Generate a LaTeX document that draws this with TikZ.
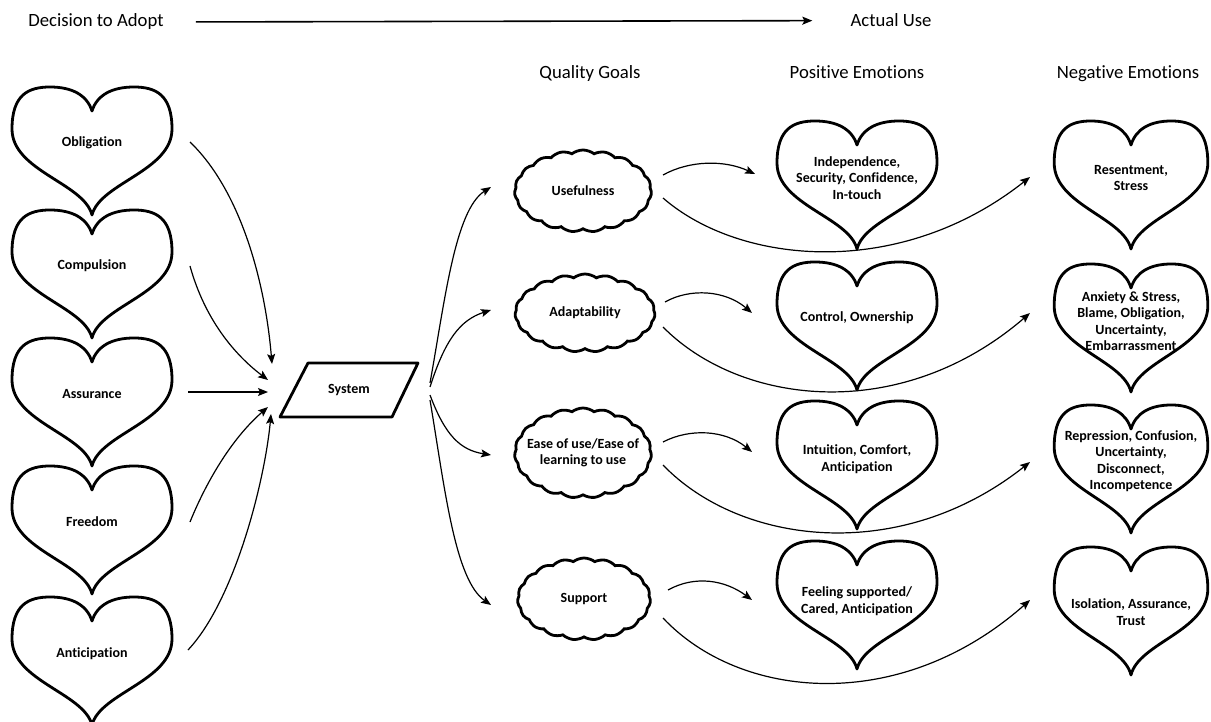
\documentclass[tikz,border=0pt]{standalone}
\usepackage{fontspec}
\setmainfont{Carlito}[Ligatures=NoCommon]
\usetikzlibrary{shapes.symbols,arrows.meta}
\newcommand{\hrtpath}[3]{%
  \draw[hline,shift={(#1,#2)},xscale=#3] (0,72) .. controls (-8,40) and (-80,28) .. (-80,-14)
    .. controls (-80,-48) and (-64,-56) .. (-42,-56)
    .. controls (-20,-56) and (-5,-48) .. (0,-32)
    .. controls (5,-48) and (20,-56) .. (42,-56)
    .. controls (64,-56) and (80,-48) .. (80,-14)
    .. controls (80,28) and (8,40) .. (0,72) -- cycle;}
\begin{document}
\begin{tikzpicture}[x=1pt,y=-1pt,
  hline/.style={line width=2.8pt, line join=round},
  htext/.style={font=\bfseries\fontsize{14}{16.5}\selectfont, align=center, inner sep=0pt},
  head/.style={font=\fontsize{18.7}{22}\selectfont, anchor=base, inner sep=0pt},
  conn/.style={line width=1.2pt, -{Stealth[length=10pt,width=8pt,inset=2pt]}},
  cloudst/.style={cloud, draw, line width=2.8pt, cloud puffs=19, cloud puff arc=75, inner sep=0pt, minimum width=137pt, minimum height=82pt},
]
\useasboundingbox (0,0) rectangle (1211,722);
\fill[white] (0,0) rectangle (1211,722);

% headers
\node[head] (dec) at (96,27) {Decision to Adopt};
\node[head] (act) at (891,27) {Actual Use};
\draw[conn, line width=1.6pt, shorten <=32pt, shorten >=38pt] (dec.east) -- (act.west);
\node[head] (qg) at (590,79) {Quality Goals};
\node[head] (pe) at (857,79) {Positive Emotions};
\node[head] (ne) at (1128,79) {Negative Emotions};

% left hearts
\hrtpath{92}{143}{1}\node[htext] (obl) at (92,143) {Obligation};
\hrtpath{92}{266}{1}\node[htext] (com) at (92,266) {Compulsion};
\hrtpath{92}{394}{1}\node[htext] (ass) at (92,394) {Assurance};
\hrtpath{92}{522}{1}\node[htext] (fre) at (92,522) {Freedom};
\hrtpath{92}{653}{1}\node[htext] (ant) at (92,654) {Anticipation};

% system
\node[htext] (sys) at (349,390) {System};
\draw[hline] ([shift={(-41,-27)}]sys.center) -- ([shift={(69,-27)}]sys.center) -- ([shift={(43,27)}]sys.center) -- ([shift={(-69,27)}]sys.center) -- cycle;

% clouds
\node[cloudst] (q1) at (583,191) {};
\node[htext] at (q1) {Usefulness};
\node[cloudst, minimum height=78pt, minimum width=140pt] (q2) at (585,313) {};
\node[htext] at (q2) {Adaptability};
\node[cloudst, minimum height=90pt] (q3) at (583,453) {};
\node[htext] at (q3) {Ease of use/Ease of\\learning to use};
\node[cloudst, minimum width=133pt] (q4) at (584,599) {};
\node[htext] at (q4) {Support};

% positive hearts
\hrtpath{857}{177}{1}\node[htext] (p1) at (857,178) {Independence,\\Security, Confidence,\\In-touch};
\hrtpath{857}{318}{1}\node[htext] (p2) at (857,318) {Control, Ownership};
\hrtpath{857}{457}{1}\node[htext] (p3) at (857,459) {Intuition, Comfort,\\Anticipation};
\hrtpath{857}{597}{1}\node[htext] (p4) at (857,601) {Feeling supported/\\Cared, Anticipation};

% negative hearts
\hrtpath{1131}{177}{0.96}\node[htext] (n1) at (1131,178) {Resentment,\\Stress};
\hrtpath{1131}{320}{0.96}\node[htext] (n2) at (1131,321) {Anxiety \& Stress,\\Blame, Obligation,\\Uncertainty,\\Embarrassment};
\hrtpath{1131}{461}{0.96}\node[htext] (n3) at (1131,461) {Repression, Confusion,\\Uncertainty,\\Disconnect,\\Incompetence};
\hrtpath{1131}{603}{0.96}\node[htext] (n4) at (1131,612) {Isolation, Assurance,\\Trust};

% connector end points
\coordinate (oblo) at (190,142);
\coordinate (como) at (190,266);
\coordinate (asso) at (188,392);
\coordinate (freo) at (190,522);
\coordinate (anto) at (188,650);
\coordinate (si1) at (272,364);
\coordinate (si2) at (268,380);
\coordinate (si3) at (268,392);
\coordinate (si4) at (268,407);
\coordinate (si5) at (271,414);

\draw[conn] (oblo) .. controls (240,190) and (265,280) .. (si1);
\draw[conn] (como) .. controls (205,320) and (235,355) .. (si2);
\draw[conn] (asso) -- (si3);
\draw[conn] (freo) .. controls (205,485) and (230,440) .. (si4);
\draw[conn] (anto) .. controls (235,600) and (265,480) .. (si5);

\coordinate (so1) at (430,383);
\coordinate (so2) at (430,387);
\coordinate (so3) at (430,395);
\coordinate (so4) at (430,400);
\coordinate (qi1) at (491,187);
\coordinate (qi2) at (491,310);
\coordinate (qi3) at (491,455);
\coordinate (qi4) at (491,605);
\draw[conn] (so1) .. controls (445,300) and (455,210) .. (qi1);
\draw[conn] (so2) .. controls (445,340) and (460,320) .. (qi2);
\draw[conn] (so3) .. controls (445,435) and (460,450) .. (qi3);
\draw[conn] (so4) .. controls (445,490) and (455,580) .. (qi4);

% clouds to positive
\coordinate (qa1) at (663,175); \coordinate (pi1) at (755,174);
\coordinate (qa2) at (665,302); \coordinate (pi2) at (752,313);
\coordinate (qa3) at (663,442); \coordinate (pi3) at (752,452);
\coordinate (qa4) at (668,590); \coordinate (pi4) at (752,600);
\draw[conn] (qa1) .. controls (690,160) and (725,160) .. (pi1);
\draw[conn] (qa2) .. controls (690,288) and (725,290) .. (pi2);
\draw[conn] (qa3) .. controls (690,428) and (725,430) .. (pi3);
\draw[conn] (qa4) .. controls (695,575) and (725,580) .. (pi4);

% clouds to negative
\coordinate (qb1) at (663,198); \coordinate (ni1) at (1030,177);
\coordinate (qb2) at (663,327); \coordinate (ni2) at (1030,313);
\coordinate (qb3) at (663,465); \coordinate (ni3) at (1030,462);
\coordinate (qb4) at (663,618); \coordinate (ni4) at (1030,600);
\draw[conn] (qb1) .. controls (740,265) and (900,280) .. (ni1);
\draw[conn] (qb2) .. controls (740,405) and (900,425) .. (ni2);
\draw[conn] (qb3) .. controls (740,545) and (900,565) .. (ni3);
\draw[conn] (qb4) .. controls (740,700) and (900,715) .. (ni4);
\end{tikzpicture}
\end{document}
